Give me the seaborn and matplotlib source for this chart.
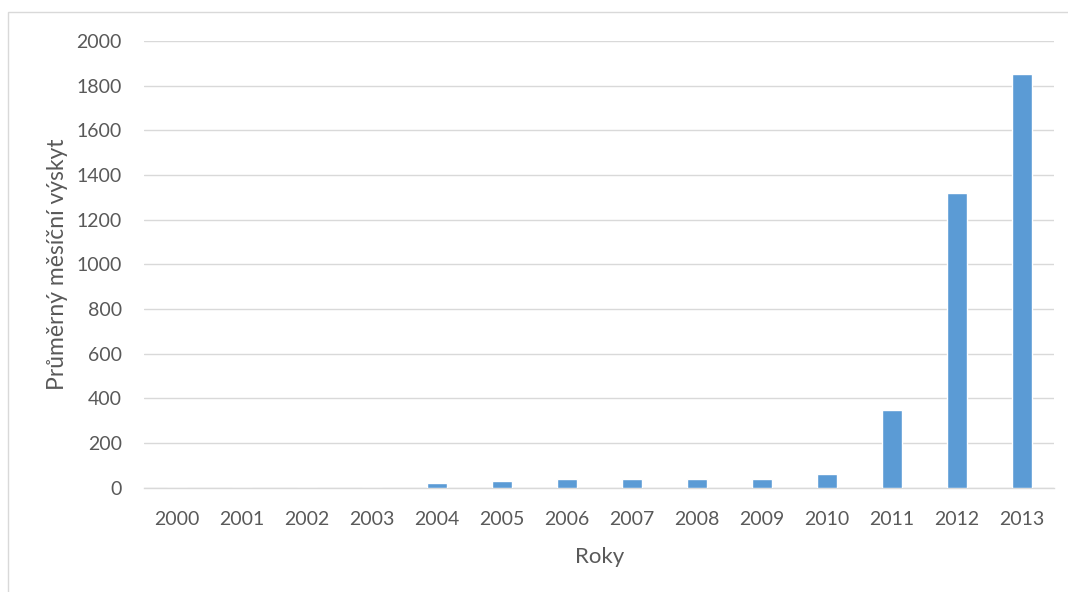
import matplotlib
matplotlib.use("Agg")
import matplotlib.pyplot as plt
import seaborn as sns
import pandas as pd
from matplotlib.patches import Rectangle

years = ["2000", "2001", "2002", "2003", "2004", "2005", "2006",
         "2007", "2008", "2009", "2010", "2011", "2012", "2013"]
values = [0, 0, 0, 0, 20, 30, 40, 40, 40, 40, 60, 350, 1320, 1850]
y_ticks = [0, 200, 400, 600, 800, 1000, 1200, 1400, 1600, 1800, 2000]

df = pd.DataFrame({"Roky": years, "vyskyt": values})

sns.set_theme(style="white")
plt.rcParams["font.family"] = ["Lato", "DejaVu Sans"]

fig = plt.figure(figsize=(10.68, 5.92), dpi=100)
ax = fig.add_axes([0.135, 0.176, 0.852, 0.755])

# outer chart border
fig.patches.append(Rectangle((8 / 1068, -0.01), 1.0, 1 - 12 / 592 + 0.01,
                             transform=fig.transFigure, fill=False,
                             edgecolor="#d9d9d9", linewidth=1.0, zorder=0))

sns.barplot(data=df, x="Roky", y="vyskyt", color="#5B9BD5", width=0.31,
            saturation=1, ax=ax, zorder=3)

ax.set_ylim(0, 2000)
ax.set_xlim(-0.5, len(years) - 0.5)
ax.set_yticks(y_ticks)
ax.yaxis.grid(True, color="#d9d9d9", linewidth=1.0, zorder=0)
ax.xaxis.grid(False)
for s in ["top", "right", "left"]:
    ax.spines[s].set_visible(False)
ax.spines["bottom"].set_color("#d9d9d9")
ax.spines["bottom"].set_linewidth(1.0)
ax.tick_params(axis="both", length=0, labelsize=14, colors="#595959")
ax.tick_params(axis="x", pad=16.5)
ax.tick_params(axis="y", pad=16)

ax.set_xlabel("Roky", fontsize=16, color="#595959", labelpad=14)
ax.set_ylabel("Průměrný měsíční výskyt", fontsize=16.5, color="#595959", labelpad=6)

fig.savefig("out.png", dpi=100)
